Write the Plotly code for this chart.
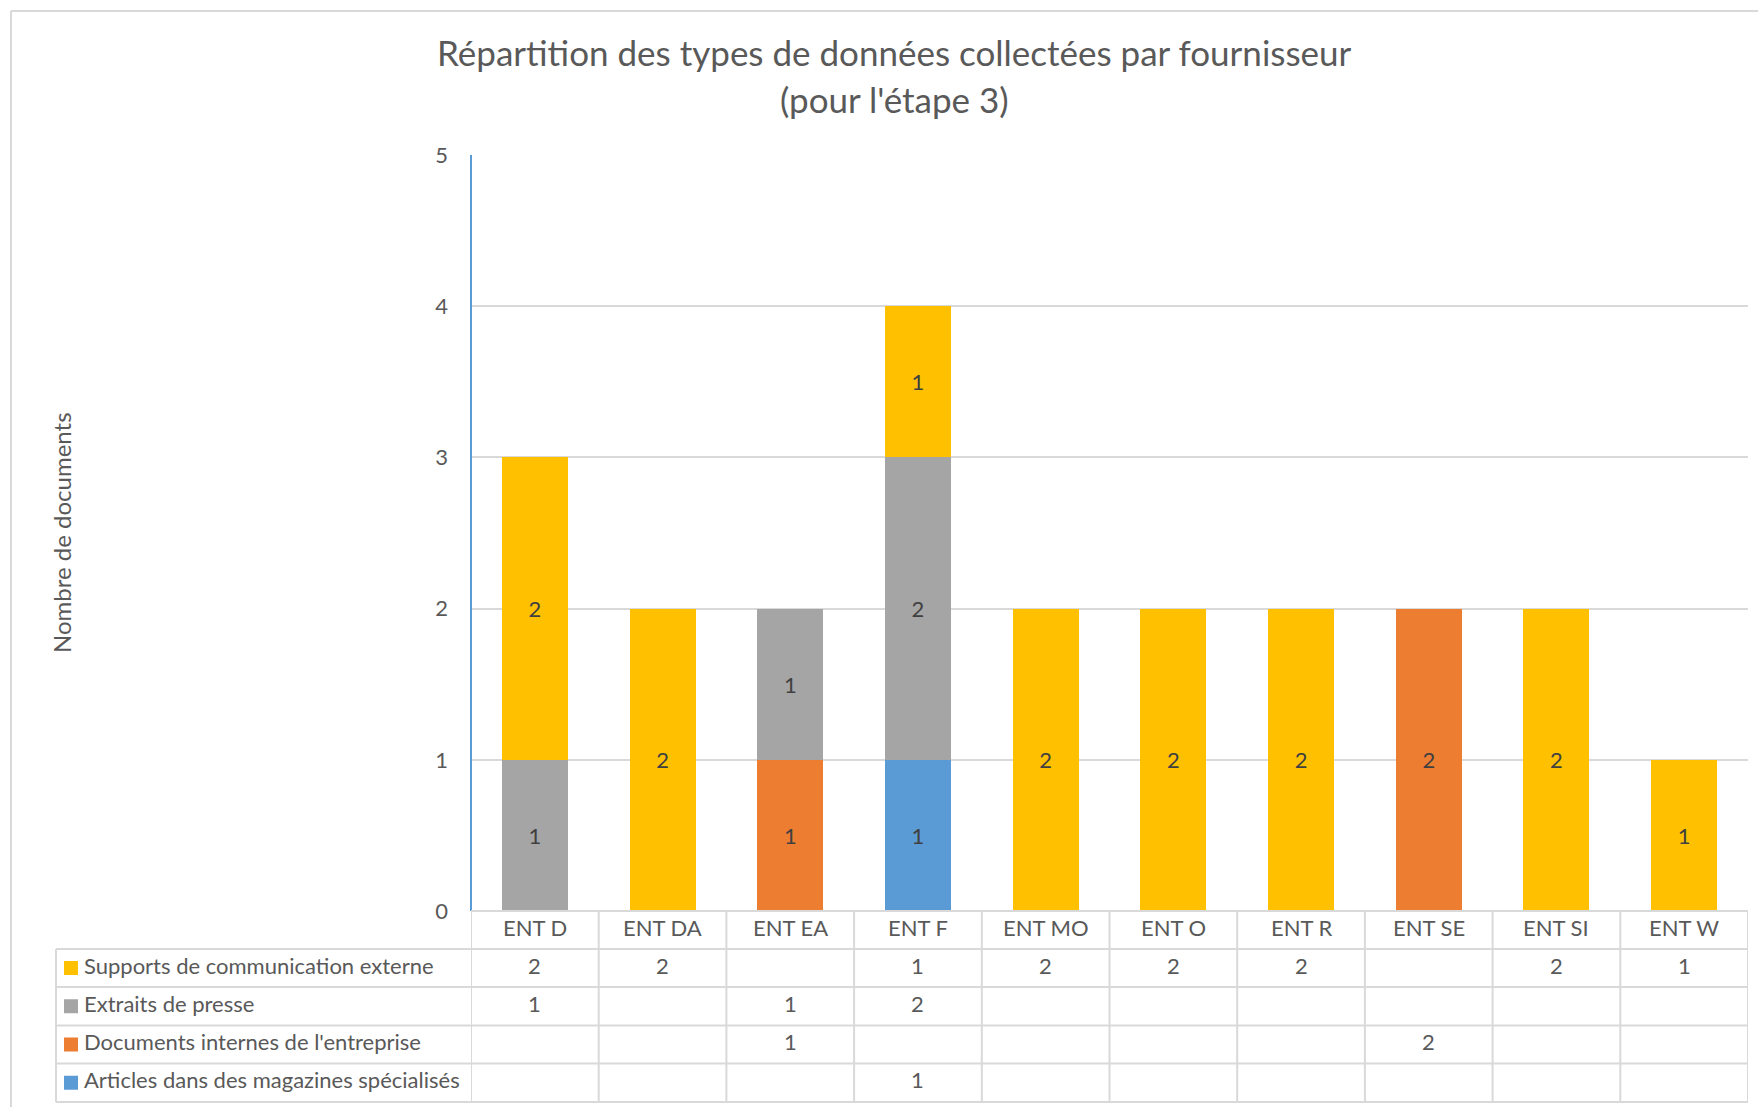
import plotly.graph_objects as go

# Data
fournisseurs = ["ENT D", "ENT DA", "ENT EA", "ENT F", "ENT MO", "ENT O", "ENT R", "ENT SE", "ENT SI", "ENT W"]
supports = [2, 2, None, 1, 2, 2, 2, None, 2, 1]
extraits = [1, None, 1, 2, None, None, None, None, None, None]
documents = [None, None, 1, None, None, None, None, 2, None, None]
articles = [None, None, None, 1, None, None, None, None, None, None]

series_names = [
    "Supports de communication externe",
    "Extraits de presse",
    "Documents internes de l'entreprise",
    "Articles dans des magazines spécialisés",
]
series_values = [supports, extraits, documents, articles]
series_colors = ["#FFC000", "#A5A5A5", "#ED7D31", "#5B9BD5"]

W, H = 1758, 1107
FONT = "Lato"
TXT = "#595959"
GRID = "#D9D9D9"
SMALL = 22
TEXT_LIFT = 3  # small upward nudge for table text baselines


def fx(px):
    return px / W


def fy(py):
    return 1 - py / H


# plot area in pixels
x0, x1 = 471, 1748
y_top, y_zero = 155, 911

fig = go.Figure()

# stacked from bottom: articles, documents, extraits, supports
for name, vals, col in reversed(list(zip(series_names, series_values, series_colors))):
    fig.add_trace(go.Bar(
        x=list(range(len(fournisseurs))),
        y=vals,
        name=name,
        marker=dict(color=col, line=dict(width=0)),
        text=[("" if v is None else str(v)) for v in vals],
        textposition="inside",
        insidetextanchor="middle",
        textangle=0,
        textfont=dict(family=FONT, size=SMALL, color="#404040"),
        hoverinfo="skip",
    ))

fig.update_layout(
    width=W, height=H,
    margin=dict(l=0, r=0, t=0, b=0, autoexpand=False),
    paper_bgcolor="white",
    plot_bgcolor="white",
    barmode="stack",
    bargap=0.483,
    showlegend=False,
    uniformtext=dict(minsize=SMALL, mode="show"),
    font=dict(family=FONT, color=TXT),
    xaxis=dict(
        domain=[fx(x0), fx(x1)],
        range=[-0.5, len(fournisseurs) - 0.5],
        showticklabels=False,
        showgrid=False,
        zeroline=False,
        showline=False,
        ticks="",
        automargin=False,
    ),
    yaxis=dict(
        domain=[fy(y_zero), fy(y_top)],
        range=[0, 5],
        tickvals=[0, 1, 2, 3, 4, 5],
        showgrid=True,
        gridcolor=GRID,
        gridwidth=2,
        zeroline=False,
        showline=False,
        ticks="",
        ticklabelstandoff=22,
        automargin=False,
        tickfont=dict(family=FONT, size=SMALL, color=TXT),
    ),
)

shapes = []
annotations = []

# y axis line
shapes.append(dict(type="line", xref="paper", yref="paper",
                   x0=fx(x0), x1=fx(x0), y0=fy(y_top), y1=fy(y_zero),
                   line=dict(color="#5B9BD5", width=2)))

# outer chart frame
shapes.append(dict(type="line", xref="paper", yref="paper",
                   x0=fx(11), x1=1.0, y0=fy(11), y1=fy(11),
                   line=dict(color=GRID, width=2)))
shapes.append(dict(type="line", xref="paper", yref="paper",
                   x0=fx(11), x1=fx(11), y0=fy(11), y1=0,
                   line=dict(color=GRID, width=2)))

# data table
tbl_left = 56
row_edges = [911, 949, 987, 1025.5, 1063.5, 1102]
shapes.append(dict(type="line", xref="paper", yref="paper",
                   x0=fx(x0), x1=fx(x1), y0=fy(row_edges[0]), y1=fy(row_edges[0]),
                   line=dict(color=GRID, width=2)))
for ry in row_edges[1:]:
    shapes.append(dict(type="line", xref="paper", yref="paper",
                       x0=fx(tbl_left), x1=fx(x1), y0=fy(ry), y1=fy(ry),
                       line=dict(color=GRID, width=2)))
shapes.append(dict(type="line", xref="paper", yref="paper",
                   x0=fx(tbl_left), x1=fx(tbl_left), y0=fy(row_edges[1]), y1=fy(row_edges[-1]),
                   line=dict(color=GRID, width=2)))
for i in range(-1, len(fournisseurs)):
    shapes.append(dict(type="line", xref="x", yref="paper",
                       x0=i + 0.5, x1=i + 0.5, y0=fy(row_edges[0]), y1=fy(row_edges[-1]),
                       line=dict(color=GRID, width=2)))

# header row: supplier names
hdr_y = (row_edges[0] + row_edges[1]) / 2 - TEXT_LIFT
for i, f in enumerate(fournisseurs):
    annotations.append(dict(x=i, y=fy(hdr_y), xref="x", yref="paper", text=f,
                            showarrow=False, xanchor="center", yanchor="middle",
                            font=dict(family=FONT, size=SMALL, color=TXT)))

# series rows
for r, (name, vals, col) in enumerate(zip(series_names, series_values, series_colors)):
    cy = (row_edges[r + 1] + row_edges[r + 2]) / 2
    ty = cy - TEXT_LIFT
    shapes.append(dict(type="rect", xref="paper", yref="paper",
                       x0=fx(64), x1=fx(78), y0=fy(cy - 7), y1=fy(cy + 7),
                       fillcolor=col, line=dict(width=0)))
    annotations.append(dict(x=fx(82), y=fy(ty), xref="paper", yref="paper", text=name,
                            showarrow=False, xanchor="left", yanchor="middle",
                            font=dict(family=FONT, size=SMALL, color=TXT)))
    for i, v in enumerate(vals):
        if v is not None:
            annotations.append(dict(x=i, y=fy(ty), xref="x", yref="paper", text=str(v),
                                    showarrow=False, xanchor="center", yanchor="middle",
                                    font=dict(family=FONT, size=SMALL, color=TXT)))

# title
title_x = fx(894)
annotations.append(dict(x=title_x, y=fy(52), xref="paper", yref="paper",
                        text="Répartition des types de données collectées par fournisseur",
                        showarrow=False, xanchor="center", yanchor="middle",
                        font=dict(family=FONT, size=35, color=TXT)))
annotations.append(dict(x=title_x, y=fy(99), xref="paper", yref="paper",
                        text="(pour l'étape 3)",
                        showarrow=False, xanchor="center", yanchor="middle",
                        font=dict(family=FONT, size=35, color=TXT)))

# y axis title
annotations.append(dict(x=fx(62), y=fy((y_top + y_zero) / 2), xref="paper", yref="paper",
                        text="Nombre de documents", textangle=-90,
                        showarrow=False, xanchor="center", yanchor="middle",
                        font=dict(family=FONT, size=24, color=TXT)))

fig.update_layout(shapes=shapes, annotations=annotations)

fig.write_html("out.html")
